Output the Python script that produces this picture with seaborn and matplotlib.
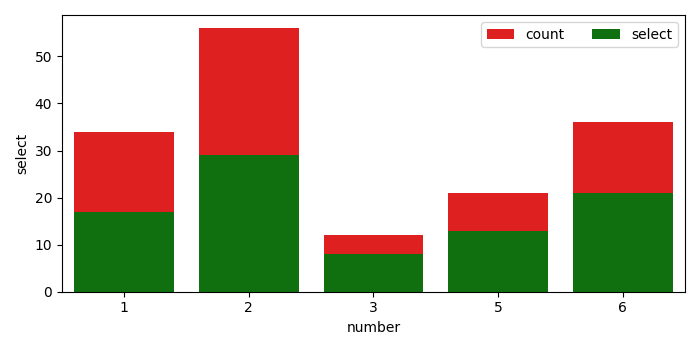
import matplotlib
matplotlib.use("Agg")
import matplotlib.pyplot as plt
import seaborn as sns
import pandas as pd

numbers = [1, 2, 3, 5, 6]
count = [34, 56, 12, 21, 36]
select = [17, 29, 8, 13, 21]

df = pd.DataFrame({"number": numbers, "count": count, "select": select})

fig, ax = plt.subplots(figsize=(7, 3.5), dpi=100)
sns.barplot(data=df, x="number", y="count", color="red", label="count", ax=ax)
sns.barplot(data=df, x="number", y="select", color="green", label="select", ax=ax)
ax.set_xlabel("number")
ax.set_ylabel("select")
ax.legend(ncol=2, loc="upper right")
fig.tight_layout()
fig.savefig("out.png")
